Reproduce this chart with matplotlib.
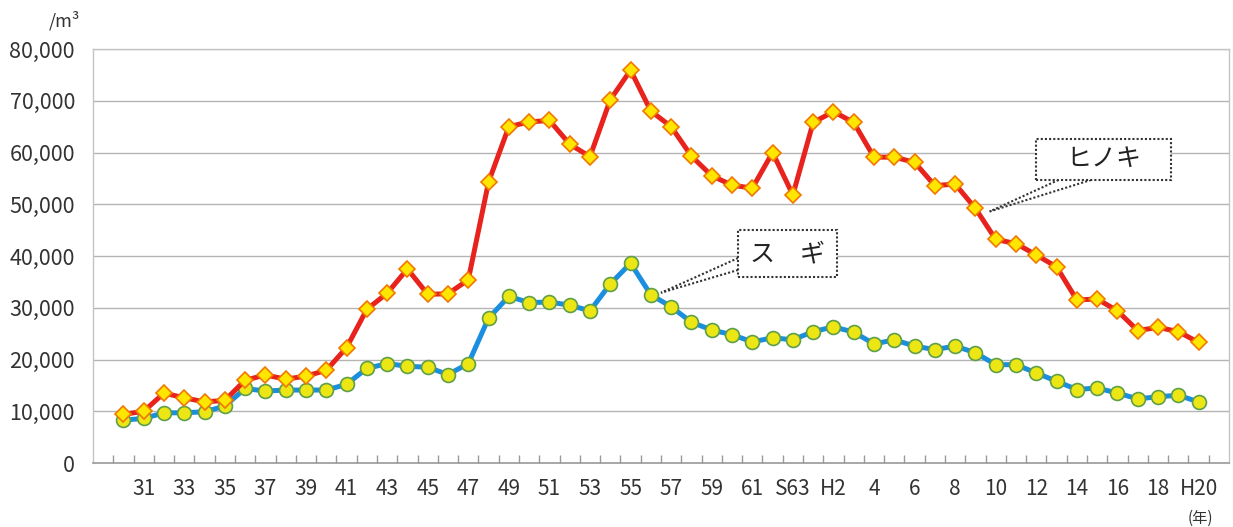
import matplotlib
matplotlib.use('Agg')
import matplotlib.pyplot as plt
from matplotlib.patches import Rectangle
from matplotlib.ticker import FixedLocator, FuncFormatter

plt.rcParams['font.family'] = ['Noto Sans CJK JP', 'DejaVu Sans']

# S30 .. S63, H1 .. H20
years = ['S%d' % y for y in range(30, 64)] + ['H%d' % y for y in range(1, 21)]

hinoki = [9400, 10000, 13500, 12600, 11800, 12100, 16000, 17000, 16200, 16800,
          17900, 22300, 29700, 32800, 37500, 32600, 32700, 35400, 54300, 65000,
          65900, 66200, 61600, 59200, 70200, 75900, 68000, 65000, 59300, 55500,
          53700, 53100, 60000, 51800, 65800, 67900, 65800, 59100, 59100, 58100,
          53600, 53900, 49200, 43200, 42400, 40200, 37900, 31500, 31700, 29400,
          25600, 26200, 25400, 23300]

sugi = [8300, 8600, 9700, 9700, 9900, 11000, 14400, 13900, 14100, 14100,
        14100, 15200, 18300, 19200, 18700, 18500, 17100, 19200, 28000, 32200,
        31000, 31100, 30500, 29400, 34600, 38600, 32500, 30200, 27200, 25700,
        24800, 23400, 24200, 23800, 25400, 26300, 25300, 23000, 23800, 22600,
        21900, 22600, 21300, 19000, 19000, 17400, 15800, 14200, 14500, 13500,
        12400, 12800, 13100, 11800]

tick_labels = ['31', '33', '35', '37', '39', '41', '43', '45', '47', '49', '51',
               '53', '55', '57', '59', '61', 'S63', 'H2', '4', '6', '8', '10',
               '12', '14', '16', '18', 'H20']

x = list(range(len(years)))
text_col = '#333333'

fig = plt.figure(figsize=(12.33, 5.27), dpi=100)
ax = fig.add_axes([93 / 1233, 64 / 527, (1229 - 93) / 1233, 414 / 527])

ax.plot(x, hinoki, color='#e8231e', lw=3.6, marker='D', ms=8.5,
        mfc='#ffe600', mec='#f07800', mew=1.2, zorder=4, clip_on=False)
ax.plot(x, sugi, color='#1a8fe0', lw=3.6, marker='o', ms=10,
        mfc='#ece614', mec='#5f9f48', mew=1.2, zorder=3, clip_on=False)

ax.set_xlim(-1.5, len(years) + 0.5)
ax.set_ylim(0, 80000)

ax.set_yticks(range(0, 80001, 10000))
ax.yaxis.set_major_formatter(FuncFormatter(lambda v, p: '{:,.0f}'.format(v)))
ax.grid(axis='y', color='#b4b4b4', lw=1.0, zorder=0)
ax.tick_params(axis='y', length=0, pad=13, labelsize=15.5, labelcolor=text_col)

ax.xaxis.set_major_locator(FixedLocator(list(range(1, len(years), 2))))
ax.set_xticklabels(tick_labels)
ax.xaxis.set_minor_locator(FixedLocator([i - 0.5 for i in range(len(years) + 1)]))
ax.tick_params(axis='x', which='major', length=0, pad=11, labelsize=15,
               labelcolor=text_col)
ax.tick_params(axis='x', which='minor', direction='in', length=6, width=1,
               color='#999999')

for side in ['left', 'right', 'top']:
    ax.spines[side].set_color('#c4c4c4')
    ax.spines[side].set_linewidth(1.0)
ax.spines['bottom'].set_color('#9a9a9a')
ax.spines['bottom'].set_linewidth(1.2)

fig.text(80 / 1233, 1 - 21 / 527, '/m³', ha='right', va='center',
         fontsize=13, color=text_col)
fig.text(1200 / 1233, 1 - 518 / 527, '(年)', ha='center', va='center',
         fontsize=11, color=text_col)

# callout boxes
box_style = dict(fill=True, facecolor='white', edgecolor='#333333',
                 linestyle=(0, (1, 1)), lw=1.5, zorder=6)
ax.add_patch(Rectangle((30.3, 35900), 4.9, 9100, **box_style))
ax.text(32.75, 40400, 'ス　ギ', ha='center', va='center', fontsize=18,
        color='#222222', zorder=7)
for y0 in (39600, 37300):
    ax.plot([30.3, 26.5], [y0, 32900], color='#333333', lw=1.5,
            ls=(0, (1, 1)), zorder=5)

ax.add_patch(Rectangle((45.0, 54700), 6.65, 8000, **box_style))
ax.text(48.33, 58700, 'ヒノキ', ha='center', va='center', fontsize=18,
        color='#222222', zorder=7)
for x0 in (46.1, 47.7):
    ax.plot([x0, 42.7], [54700, 48600], color='#333333', lw=1.5,
            ls=(0, (1, 1)), zorder=5)

fig.savefig('out.png', dpi=100)
